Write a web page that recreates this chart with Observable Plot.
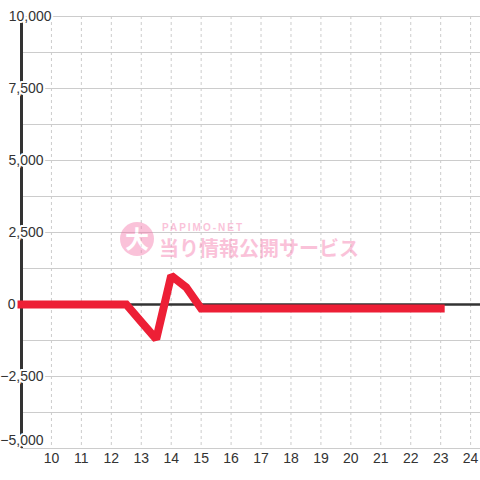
<!DOCTYPE html>
<html>
<head>
<meta charset="utf-8">
<script src="https://cdn.jsdelivr.net/npm/d3@7"></script>
<script src="https://cdn.jsdelivr.net/npm/@observablehq/plot@0.6"></script>
<style>
  html, body { margin: 0; padding: 0; background: #fff; }
  #chart { position: relative; width: 480px; height: 480px; }
  #chart svg { display: block; }
</style>
</head>
<body>
<div id="chart"></div>
<script>
// Data
const hours = [9, 9.5, 10, 10.5, 11, 11.5, 12, 12.5, 13, 13.5, 14, 14.5, 15, 15.5, 16, 16.5, 17, 17.5, 18, 18.5, 19, 19.5, 20, 20.5, 21, 21.5, 22, 22.5, 23];
const values = [0, 0, 0, 0, 0, 0, 0, 0, -600, -1200, 1000, 600, -140, -140, -140, -140, -140, -140, -140, -140, -140, -140, -140, -140, -140, -140, -140, -140, -140];
const xTicks = [10, 11, 12, 13, 14, 15, 16, 17, 18, 19, 20, 21, 22, 23, 24];
const yLabelTicks = [-5000, -2500, 0, 2500, 5000, 7500, 10000];
const yGridTicks = [-5000, -3750, -2500, -1250, 1250, 2500, 3750, 5000, 6250, 7500, 8750, 10000];

const data = hours.map((h, i) => ({hour: h, value: values[i]}));
const fmt = d3.format(",");

const labelStyle = {fill: "#333", stroke: "white", strokeWidth: 4, fontSize: 14};

const chart = Plot.plot({
  width: 480,
  height: 480,
  marginLeft: 21,
  marginRight: 0,
  marginTop: 16,
  marginBottom: 32,
  style: {fontFamily: "'Liberation Sans', Arial, sans-serif", fontSize: "14px", background: "white"},
  x: {domain: [9, 24.33], axis: null},
  y: {domain: [-5000, 10000], axis: null},
  marks: [
    Plot.ruleY(yGridTicks, {stroke: "#cccccc", strokeWidth: 1}),
    Plot.ruleX(xTicks, {stroke: "#cccccc", strokeWidth: 1, strokeDasharray: "3,3"}),
    Plot.ruleY([0], {stroke: "#333", strokeWidth: 2.5}),
    Plot.ruleX([9], {stroke: "#333", strokeWidth: 3}),
    Plot.line(data, {x: "hour", y: "value", stroke: "#ed1f36", strokeWidth: 8, strokeLinecap: "square", strokeLinejoin: "miter", strokeMiterlimit: 1.5}),
    Plot.text(yLabelTicks.filter(d => d !== 0 && d !== 10000 && d !== -5000), {y: d => d, text: d => fmt(d), frameAnchor: "left", textAnchor: "end", dx: 22, ...labelStyle}),
    Plot.text([-5000], {y: d => d, text: d => fmt(d), frameAnchor: "left", textAnchor: "end", dx: 22, dy: -8, ...labelStyle}),
    Plot.text([10000], {y: d => d, text: d => fmt(d), frameAnchor: "left", textAnchor: "end", dx: 30, ...labelStyle}),
    Plot.text([0], {y: d => d, text: d => fmt(d), frameAnchor: "left", textAnchor: "end", dx: -6, ...labelStyle}),
    Plot.text(xTicks, {x: d => d, text: d => String(d), frameAnchor: "bottom", dy: 14, fill: "#333", fontSize: 14})
  ]
});

document.getElementById("chart").appendChild(chart);

// Watermark
const svg = d3.select(chart);
const wm = svg.append("g").attr("opacity", 0.42).attr("text-anchor", "start").attr("font-family", "'Noto Sans CJK JP', 'Noto Sans', sans-serif").attr("font-weight", "bold");
wm.append("circle").attr("cx", 137).attr("cy", 239).attr("r", 17).attr("fill", "#f570a7");
wm.append("text").attr("x", 137).attr("y", 248).attr("text-anchor", "middle").attr("font-size", 24).attr("fill", "white").text("大");
wm.append("text").attr("x", 162).attr("y", 231).attr("text-anchor", "start").attr("font-size", 10).attr("letter-spacing", 2).attr("fill", "#f570a7").attr("font-family", "'Liberation Sans', Arial, sans-serif").text("PAPIMO-NET");
wm.append("text").attr("x", 159).attr("y", 256).attr("text-anchor", "start").attr("font-size", 20).attr("fill", "#f570a7").text("当り情報公開サービス");
</script>
</body>
</html>
